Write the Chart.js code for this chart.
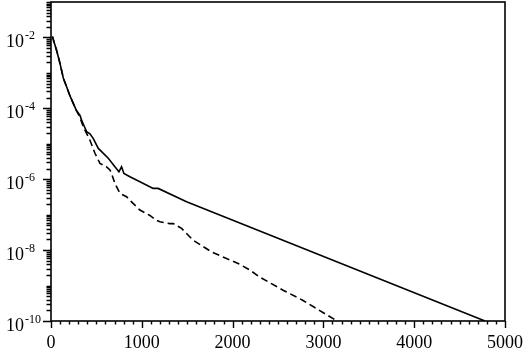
<!DOCTYPE html>
<html>
<head>
<meta charset="utf-8">
<script src="https://cdn.jsdelivr.net/npm/chart.js@4/dist/chart.umd.min.js"></script>
<style>
  html, body { margin: 0; padding: 0; background: #fff; }
  canvas { display: block; }
</style>
</head>
<body>
<canvas id="c" width="526" height="349"></canvas>
<script>
// ---- data ----
const solidX = [15, 62, 99, 136, 172, 209, 245, 282, 300, 318, 337, 360, 392, 429, 466, 521, 557, 631, 704, 748, 777, 803, 869, 979, 1125, 1180, 1493, 4780];
const solidY = [1.07e-2, 4.27e-3, 1.86e-3, 7.08e-4, 4.07e-4, 2.24e-4, 1.38e-4, 8.5e-5, 7.4e-5, 6.4e-5, 4.7e-5, 3.4e-5, 2.2e-5, 1.9e-5, 1.4e-5, 7.4e-6, 6.0e-6, 3.9e-6, 2.24e-6, 1.62e-6, 2.24e-6, 1.45e-6, 1.17e-6, 8.5e-7, 5.5e-7, 5.5e-7, 2.3e-7, 1.0e-10];

const dashedX = [15, 62, 99, 136, 172, 209, 245, 282, 318, 356, 429, 484, 539, 612, 649, 667, 704, 759, 832, 887, 979, 1089, 1163, 1199, 1309, 1346, 1438, 1566, 1768, 1933, 2061, 2189, 2299, 2556, 2776, 3150];
const dashedY = [1.07e-2, 4.27e-3, 1.86e-3, 7.08e-4, 4.07e-4, 2.24e-4, 1.38e-4, 8.5e-5, 5.6e-5, 3.0e-5, 1.26e-5, 5.4e-6, 2.8e-6, 2.24e-6, 1.82e-6, 1.45e-6, 7.6e-7, 4.0e-7, 3.2e-7, 2.3e-7, 1.35e-7, 9.5e-8, 6.9e-8, 6.3e-8, 5.6e-8, 5.6e-8, 4.1e-8, 1.9e-8, 8.9e-9, 5.8e-9, 4.2e-9, 2.75e-9, 1.74e-9, 7.4e-10, 3.8e-10, 1.0e-10];

const xTickLabels = [0, 1000, 2000, 3000, 4000, 5000];
const yLabelExponents = [-2, -4, -6, -8, -10];
const xMin = 0, xMax = 5000, yMin = 1e-10, yMax = 1e-1;

const toPts = (xs, ys) => xs.map((x, i) => ({ x: x, y: ys[i] }));

const FONT = '"Liberation Serif", "Times New Roman", serif';

const framePlugin = {
  id: 'frameTicks',
  afterDraw(chart) {
    const ctx = chart.ctx;
    const a = chart.chartArea;
    const xs = chart.scales.x, ys = chart.scales.y;
    ctx.save();
    ctx.strokeStyle = '#000';
    ctx.fillStyle = '#000';
    ctx.lineWidth = 1.6;
    ctx.strokeRect(a.left, a.top, a.right - a.left, a.bottom - a.top);

    // x ticks (outward)
    ctx.lineWidth = 1.4;
    ctx.beginPath();
    for (let v = xMin; v <= xMax; v += 100) {
      const px = Math.round(xs.getPixelForValue(v)) + 0.5;
      const len = (v % 1000 === 0) ? 7 : 3.5;
      ctx.moveTo(px, a.bottom);
      ctx.lineTo(px, a.bottom + len);
    }
    // y ticks (outward)
    for (let e = -10; e <= -1; e++) {
      for (let k = 1; k <= 9; k++) {
        const v = k * Math.pow(10, e);
        if (v > yMax * 1.0001) break;
        const py = Math.round(ys.getPixelForValue(v)) + 0.5;
        const len = (k === 1 && e % 2 === 0) ? 8 : 4.5;
        ctx.moveTo(a.left, py);
        ctx.lineTo(a.left - len, py);
      }
    }
    ctx.stroke();

    // x labels
    ctx.font = '18px ' + FONT;
    ctx.textAlign = 'center';
    ctx.textBaseline = 'alphabetic';
    xTickLabels.forEach(v => {
      ctx.fillText(String(v), xs.getPixelForValue(v), 348);
    });

    // y labels: 10^e
    ctx.textAlign = 'left';
    yLabelExponents.forEach(e => {
      const py = ys.getPixelForValue(Math.pow(10, e));
      ctx.font = '18px ' + FONT;
      const x0 = 6;
      ctx.fillText('10', x0, py + 10);
      const w = ctx.measureText('10').width;
      ctx.font = '12px ' + FONT;
      ctx.fillText(String(e), x0 + w + 1, py + 1.5);
    });
    ctx.restore();
  }
};

new Chart(document.getElementById('c'), {
  type: 'line',
  data: {
    datasets: [
      {
        data: toPts(solidX, solidY),
        borderColor: '#000',
        borderWidth: 1.6,
        pointRadius: 0,
        tension: 0,
        fill: false
      },
      {
        data: toPts(dashedX, dashedY),
        borderColor: '#000',
        borderWidth: 1.6,
        borderDash: [7, 4],
        pointRadius: 0,
        tension: 0,
        fill: false
      }
    ]
  },
  options: {
    responsive: false,
    animation: false,
    devicePixelRatio: 1,
    layout: { padding: { top: 2, right: 21, left: 0, bottom: 0 } },
    plugins: { legend: { display: false }, tooltip: { enabled: false } },
    scales: {
      x: {
        type: 'linear', min: xMin, max: xMax,
        ticks: { display: false },
        grid: { display: false },
        border: { display: false },
        afterFit: s => { s.height = 28; }
      },
      y: {
        type: 'logarithmic', min: yMin, max: yMax,
        ticks: { display: false },
        grid: { display: false },
        border: { display: false },
        afterFit: s => { s.width = 51; }
      }
    }
  },
  plugins: [framePlugin]
});
</script>
</body>
</html>
